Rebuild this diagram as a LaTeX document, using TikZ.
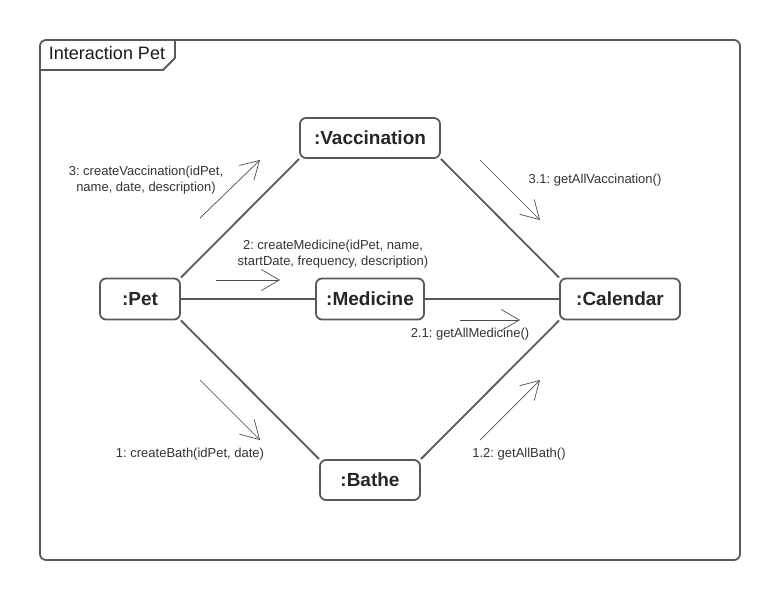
\documentclass[tikz,border=0pt]{standalone}
\usepackage{fontspec}
\setmainfont{Liberation Sans}
\usetikzlibrary{arrows.meta,backgrounds}
\definecolor{ln}{HTML}{595959}
\definecolor{tx}{HTML}{333333}
\frenchspacing
\begin{document}
\begin{tikzpicture}[x=1pt,y=-1pt,
  obj/.style={draw=ln, line width=1.8pt, rounded corners=6pt, fill=white,
    font=\fontsize{19}{22}\selectfont\bfseries, text=black!85, inner sep=0pt},
  link/.style={draw=ln, line width=1.8pt},
  msg/.style={draw=black!70, line width=0.7pt,
    -{Straight Barb[length=18pt,width=21pt,line width=0.7pt]}},
  lbl/.style={font=\fontsize{13}{15.5}\selectfont, text=tx, align=center, inner sep=0pt},
  frame/.style={draw=ln, line width=1.8pt}]
\useasboundingbox (0,0) rectangle (780,600);
\draw[frame, rounded corners=6pt] (40,40) rectangle (740,560);
\draw[frame] (40,70) -- (163,70) -- (175,58) -- (175,41);
\node[font=\fontsize{18}{20}\selectfont, text=black!90, inner sep=0pt] (title) at (107,53) {Interaction Pet};

\node[obj, minimum width=80pt, minimum height=41pt] (pet) at (140,299) {:Pet};
\node[obj, minimum width=140pt, minimum height=40pt] (vac) at (370,138) {:Vaccination};
\node[obj, minimum width=108pt, minimum height=41pt] (med) at (370,299) {:Medicine};
\node[obj, minimum width=120pt, minimum height=41pt] (cal) at (620,299) {:Calendar};
\node[obj, minimum width=100pt, minimum height=40pt] (bat) at (370,480) {:Bathe};

\begin{pgfonlayer}{background}
\draw[link] (pet.north east) -- (vac.south west);
\draw[link] (pet.east) -- (med.west);
\draw[link] (med.east) -- (cal.west);
\draw[link] (vac.south east) -- (cal.north west);
\draw[link] (pet.south east) -- (bat.north west);
\draw[link] (bat.north east) -- (cal.south west);
\end{pgfonlayer}

\coordinate (m3a) at (200,218); \coordinate (m3b) at (260,160);
\coordinate (m2a) at (216,280); \coordinate (m2b) at (280,280);
\coordinate (m31a) at (480,160); \coordinate (m31b) at (540,220);
\coordinate (m21a) at (460,320); \coordinate (m21b) at (520,320);
\coordinate (m1a) at (200,380); \coordinate (m1b) at (260,440);
\coordinate (m12a) at (480,440); \coordinate (m12b) at (540,380);
\draw[msg] (m3a) -- (m3b);
\draw[msg] (m2a) -- (m2b);
\draw[msg] (m31a) -- (m31b);
\draw[msg] (m21a) -- (m21b);
\draw[msg] (m1a) -- (m1b);
\draw[msg] (m12a) -- (m12b);

\node[lbl] (l3) at (146,180) {3: createVaccination(idPet,\\name, date, description)};
\node[lbl] (l2) at (333,254) {2: createMedicine(idPet, name,\\startDate, frequency, description)};
\node[lbl] (l31) at (595,180) {3.1: getAllVaccination()};
\node[lbl] (l21) at (470,334) {2.1: getAllMedicine()};
\node[lbl] (l1) at (190,454) {1: createBath(idPet, date)};
\node[lbl] (l12) at (519,454) {1.2: getAllBath()};
\end{tikzpicture}
\end{document}
